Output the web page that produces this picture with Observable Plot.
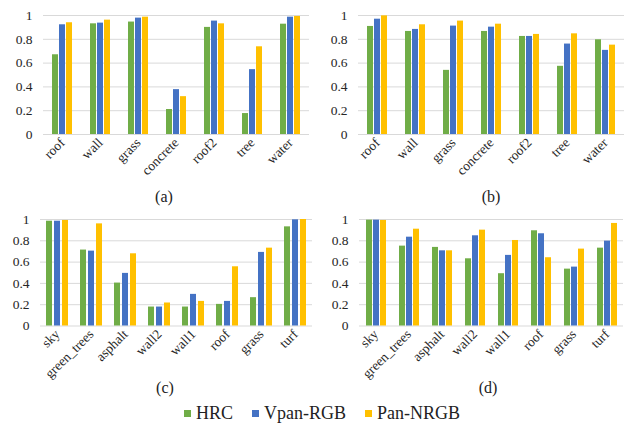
<!DOCTYPE html>
<html><head><meta charset="utf-8">
<script src="https://cdn.jsdelivr.net/npm/d3@7"></script>
<script src="https://cdn.jsdelivr.net/npm/@observablehq/plot@0.6"></script>
<style>
body{margin:0;background:#fff;font-family:"Liberation Serif",serif;}
#root{position:relative;width:626px;height:424px;overflow:hidden;background:#fff;}
#root svg, #root svg text{font-family:"Liberation Serif",serif !important;}
.panel{position:absolute;}
.cap{position:absolute;font-size:16px;line-height:18px;color:#222;transform:translateX(-50%);white-space:nowrap;}
#legend{position:absolute;left:184px;top:403px;}
#legend div{min-height:0 !important;font-family:"Liberation Serif",serif !important;font-size:18px !important;line-height:20px;}
#legend span{margin-right:19px !important;}
#legend span > svg{margin-right:5px !important;}
</style></head><body><div id="root"></div>
<script>
const series = ["HRC", "Vpan-RGB", "Pan-NRGB"];
const colors = ["#70AD47", "#4472C4", "#FFC000"];
const yTicks = [0, 0.2, 0.4, 0.6, 0.8, 1];

const catsA = ["roof", "wall", "grass", "concrete", "roof2", "tree", "water"];
const hrcA  = [0.67, 0.93, 0.945, 0.21, 0.90, 0.176, 0.927];
const vpanA = [0.922, 0.936, 0.978, 0.377, 0.953, 0.545, 0.986];
const panA  = [0.939, 0.961, 0.986, 0.318, 0.930, 0.737, 0.992];

const catsB = ["roof", "wall", "grass", "concrete", "roof2", "tree", "water"];
const hrcB  = [0.908, 0.866, 0.539, 0.866, 0.824, 0.573, 0.796];
const vpanB = [0.969, 0.883, 0.911, 0.902, 0.824, 0.760, 0.707];
const panB  = [0.997, 0.922, 0.953, 0.927, 0.841, 0.846, 0.751];

const catsC = ["sky", "green_trees", "asphalt", "wall2", "wall1", "roof", "grass", "turf"];
const hrcC  = [0.984, 0.713, 0.403, 0.178, 0.178, 0.203, 0.266, 0.931];
const vpanC = [0.984, 0.703, 0.494, 0.178, 0.297, 0.231, 0.691, 0.997];
const panC  = [0.991, 0.959, 0.678, 0.216, 0.231, 0.556, 0.731, 1.0];

const catsD = ["sky", "green_trees", "asphalt", "wall2", "wall1", "roof", "grass", "turf"];
const hrcD  = [0.994, 0.750, 0.738, 0.631, 0.491, 0.894, 0.534, 0.731];
const vpanD = [0.994, 0.834, 0.706, 0.847, 0.663, 0.866, 0.553, 0.797];
const panD  = [0.991, 0.909, 0.706, 0.900, 0.803, 0.641, 0.722, 0.963];

const captions = ["(a)", "(b)", "(c)", "(d)"];
const FONT = "Liberation Serif";

const root = document.getElementById("root");

function makePanel(cats, hrc, vpan, pan, o) {
  const rows = [];
  cats.forEach((c, i) => {
    rows.push({cat: c, s: series[0], v: hrc[i]});
    rows.push({cat: c, s: series[1], v: vpan[i]});
    rows.push({cat: c, s: series[2], v: pan[i]});
  });
  const p = Plot.plot({
    width: o.width, height: o.height,
    marginLeft: o.ml, marginRight: o.mr, marginTop: o.mt, marginBottom: o.mb,
    style: {background: "transparent", color: "#262626", fontFamily: FONT},
    fx: {domain: cats, padding: 0, label: null},
    x: {domain: series, paddingInner: 0.2, paddingOuter: o.po, axis: null},
    y: {domain: [0, 1], label: null},
    color: {domain: series, range: colors},
    marks: [
      Plot.gridY(yTicks, {stroke: "#d9d9d9", strokeOpacity: 1, strokeWidth: 1}),
      Plot.barY(rows, {fx: "cat", x: "s", y: "v", fill: "s"}),
      Plot.axisY(yTicks, {tickSize: 0, tickPadding: 11, fontSize: 13.5, fontFamily: FONT, label: null, tickFormat: d => String(d)}),
      Plot.axisFx({anchor: "bottom", tickRotate: -45, tickSize: 0, tickPadding: 6, fontSize: 13.5, fontFamily: FONT, label: null})
    ]
  });
  p.classList.add("panel");
  p.style.left = o.left + "px";
  p.style.top = o.top + "px";
  root.appendChild(p);
  const cap = document.createElement("div");
  cap.className = "cap";
  cap.textContent = o.caption;
  cap.style.left = o.cx + "px";
  cap.style.top = (o.cy - 9) + "px";
  root.appendChild(cap);
}

makePanel(catsA, hrcA, vpanA, panA, {left: 0, top: 0, width: 313, height: 185, ml: 40, mr: 1, mt: 15, mb: 51, po: 1.0, caption: captions[0], cx: 164, cy: 197});
makePanel(catsB, hrcB, vpanB, panB, {left: 313, top: 0, width: 313, height: 185, ml: 44, mr: 2, mt: 15, mb: 51, po: 1.0, caption: captions[1], cx: 491, cy: 197});
makePanel(catsC, hrcC, vpanC, panC, {left: 0, top: 204, width: 313, height: 190, ml: 40, mr: 1, mt: 15, mb: 68.5, po: 0.72, caption: captions[2], cx: 165, cy: 388});
makePanel(catsD, hrcD, vpanD, panD, {left: 313, top: 204, width: 313, height: 190, ml: 44, mr: 2, mt: 15, mb: 68.5, po: 0.72, caption: captions[3], cx: 488, cy: 388});

const leg = Plot.legend({
  color: {domain: series, range: colors},
  swatchSize: 7,
  style: {fontSize: "18px", color: "#222", background: "transparent", fontFamily: FONT}
});
const lw = document.createElement("div");
lw.id = "legend";
lw.appendChild(leg);
root.appendChild(lw);
</script>
</body></html>
